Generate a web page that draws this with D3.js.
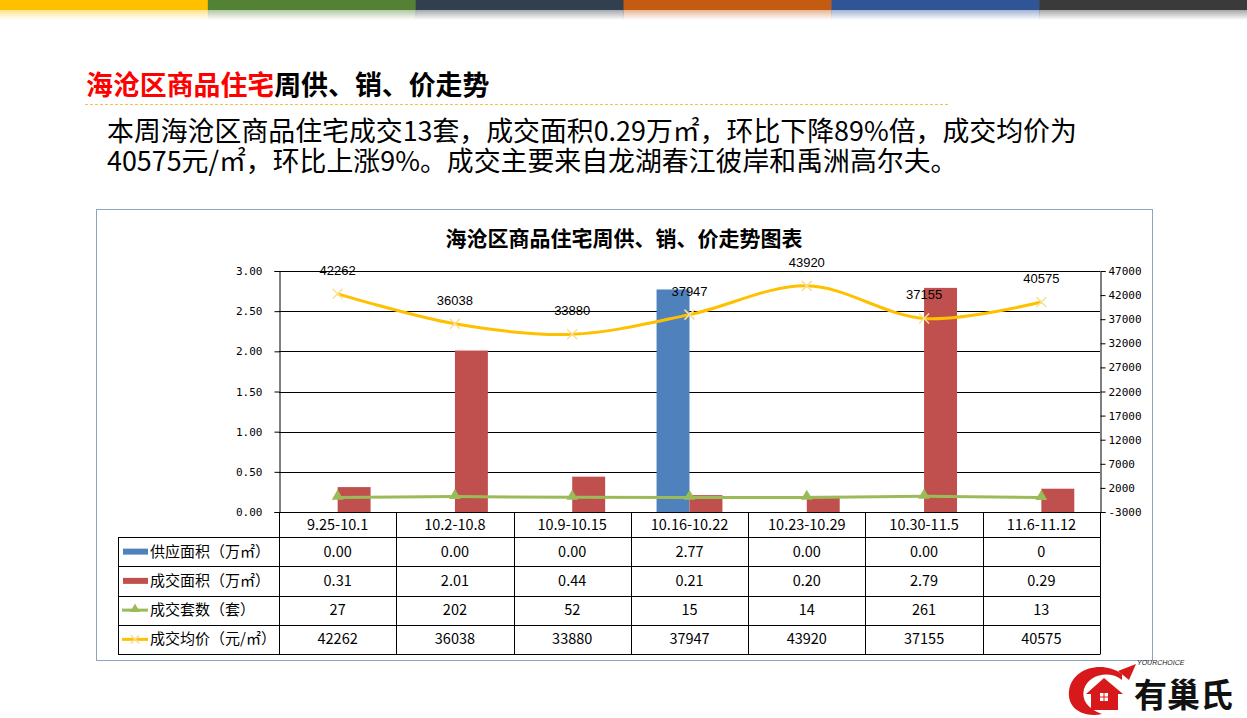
<!DOCTYPE html>
<html><head><meta charset="utf-8">
<script src="https://cdn.jsdelivr.net/npm/d3@7"></script>
<style>body{margin:0;background:#fff;position:relative;}svg{display:block;}
#body{position:absolute;left:107px;white-space:nowrap;font-family:'Noto Sans CJK SC';color:#000;line-height:30px;}</style>
</head><body>
<svg id="c" width="1247" height="718"></svg>
<div id="body"></div>
<script>
// ---- data ----
const categories = ["9.25-10.1","10.2-10.8","10.9-10.15","10.16-10.22","10.23-10.29","10.30-11.5","11.6-11.12"];
const supplyArea = [0,0,0,2.77,0,0,0];
const supplyLabels = ["0.00","0.00","0.00","2.77","0.00","0.00","0"];
const soldArea = [0.31,2.01,0.44,0.21,0.20,2.79,0.29];
const soldUnits = [27,202,52,15,14,261,13];
const avgPrice = [42262,36038,33880,37947,43920,37155,40575];
const leftTicks = [0,0.5,1,1.5,2,2.5,3];
const rightTicks = [-3000,2000,7000,12000,17000,22000,27000,32000,37000,42000,47000];
const seriesNames = ["供应面积（万㎡）","成交面积（万㎡）","成交套数（套）","成交均价（元/㎡）"];
const topBarColors = ["#FFC000","#548235","#323F4F","#C55A11","#2F5597","#3A3A3A"];

const svg = d3.select("#c");
const defs = svg.append("defs");
const W = 1247;

// ---- top color bar ----
const tb = d3.scaleBand().domain(d3.range(topBarColors.length)).range([0,W]);
topBarColors.forEach((c,i)=>{
  const g = defs.append("linearGradient").attr("id","fade"+i).attr("x1",0).attr("x2",0).attr("y1",0).attr("y2",1);
  g.append("stop").attr("offset","0%").attr("stop-color",c).attr("stop-opacity",0.45);
  g.append("stop").attr("offset","100%").attr("stop-color",c).attr("stop-opacity",0);
});
svg.selectAll("rect.tb").data(topBarColors).join("rect").attr("class","tb")
  .attr("x",(d,i)=>tb(i)).attr("y",0).attr("width",tb.bandwidth()+0.5).attr("height",10).attr("fill",d=>d);
svg.selectAll("rect.tbf").data(topBarColors).join("rect").attr("class","tbf")
  .attr("x",(d,i)=>tb(i)).attr("y",10).attr("width",tb.bandwidth()+0.5).attr("height",10).attr("fill",(d,i)=>`url(#fade${i})`);

// ---- heading ----
const head = svg.append("text").attr("x",86).attr("y",95)
  .attr("font-family","'Noto Sans CJK SC'").attr("font-weight","bold").attr("font-size",26.9);
head.append("tspan").attr("fill","#FF0000").text("海沧区商品住宅");
head.append("tspan").attr("fill","#000").text("周供、销、价走势");
svg.append("line").attr("x1",85).attr("x2",948).attr("y1",104.5).attr("y2",104.5)
  .attr("stroke","#F2C14E").attr("stroke-width",1).attr("stroke-dasharray","3,2");

// body paragraph (HTML, two lines)
const bodyLines = ["本周海沧区商品住宅成交13套，成交面积0.29万㎡，环比下降89%倍，成交均价为",
                   "40575元/㎡，环比上涨9%。成交主要来自龙湖春江彼岸和禹洲高尔夫。"];
const meas = svg.append("text").attr("font-family","'Noto Sans CJK SC'").attr("font-size",25).text(bodyLines[0]);
const fs = Math.min(27, 25 * 970 / meas.node().getComputedTextLength());
meas.remove();
const bodyDiv = d3.select("#body").style("font-size",fs+"px")
  .style("top",(142 - (15 - 0.724*fs + 1.16*fs))+"px");
bodyDiv.html(bodyLines.join("<br>"));

// ---- chart frame ----
svg.append("rect").attr("x",96.5).attr("y",209.5).attr("width",1056).attr("height",451)
  .attr("fill","#fff").attr("stroke","#8AA6C1").attr("stroke-width",1);
svg.append("text").attr("x",624).attr("y",246).attr("text-anchor","middle")
  .attr("font-family","'Noto Sans CJK SC'").attr("font-weight","bold").attr("font-size",21).attr("fill","#000")
  .text("海沧区商品住宅周供、销、价走势图表");

const L = 279, R = 1100, T = 271, B = 512;
const x0 = d3.scaleBand().domain(categories).range([L,R]).padding(0);
const x1 = d3.scaleBand().domain(["supply","sold"]).range([0,x0.bandwidth()]).paddingInner(0).paddingOuter(0.78);
const yL = d3.scaleLinear().domain([0,3]).range([B,T]);
const yR = d3.scaleLinear().domain([-3000,47000]).range([B,T]);

// gridlines
svg.append("g").selectAll("line").data(leftTicks.filter(d=>d>0)).join("line")
  .attr("x1",L).attr("x2",R).attr("y1",d=>Math.round(yL(d))+0.5).attr("y2",d=>Math.round(yL(d))+0.5)
  .attr("stroke","#000").attr("stroke-width",1);

// bars
const barData = categories.map((c,i)=>({c, supply:supplyArea[i], sold:soldArea[i]}));
const colors = {supply:"#4F81BD", sold:"#C0504D"};
const gb = svg.append("g");
barData.forEach(d=>{
  ["supply","sold"].forEach(k=>{
    if (d[k] <= 0) return;
    gb.append("rect").attr("x",x0(d.c)+x1(k)).attr("width",x1.bandwidth())
      .attr("y",yL(d[k])).attr("height",yL(0)-yL(d[k])).attr("fill",colors[k]);
  });
});

// axes
const axL = d3.axisLeft(yL).tickValues(leftTicks).tickFormat(d3.format(".2f")).tickSize(5).tickPadding(12);
const gL = svg.append("g").attr("transform",`translate(${L+0.5},0)`).call(axL);
const axR = d3.axisRight(yR).tickValues(rightTicks).tickFormat(d=>String(d)).tickSize(5).tickPadding(3);
const gR = svg.append("g").attr("transform",`translate(${R+0.5},0)`).call(axR);
[gL,gR].forEach(g=>{
  g.select(".domain").attr("stroke","#000");
  g.selectAll(".tick line").attr("stroke","#000");
  g.selectAll("text").attr("font-family","'DejaVu Sans Mono'").attr("font-size",11).attr("fill","#000");
});
svg.append("line").attr("x1",L).attr("x2",R).attr("y1",B+0.5).attr("y2",B+0.5).attr("stroke","#000");

// lines
const cx = c => x0(c)+x0.bandwidth()/2;
const lineR = d3.line().x((d,i)=>cx(categories[i])).y(d=>yR(d));
svg.append("path").datum(soldUnits).attr("d",lineR).attr("fill","none").attr("stroke","#9BBB59").attr("stroke-width",3);
const tri = d3.symbol().type(d3.symbolTriangle).size(60);
svg.append("g").selectAll("path").data(soldUnits).join("path")
  .attr("transform",(d,i)=>`translate(${cx(categories[i])},${yR(d)-1})`).attr("d",tri).attr("fill","#9BBB59");

const lineSmooth = d3.line().x((d,i)=>cx(categories[i])).y(d=>yR(d)).curve(d3.curveCardinal.tension(0));
svg.append("path").datum(avgPrice).attr("d",lineSmooth).attr("fill","none").attr("stroke","#FFC000").attr("stroke-width",3);
const xs = 5;
const gx = svg.append("g").selectAll("g").data(avgPrice).join("g")
  .attr("transform",(d,i)=>`translate(${cx(categories[i])},${yR(d)})`);
gx.append("path").attr("d",`M${-xs},${-xs}L${xs},${xs}M${-xs},${xs}L${xs},${-xs}`)
  .attr("stroke","#F9E08F").attr("stroke-width",1.5).attr("fill","none");
svg.append("g").selectAll("text").data(avgPrice).join("text")
  .attr("x",(d,i)=>cx(categories[i])).attr("y",d=>yR(d)-19).attr("text-anchor","middle")
  .attr("font-family","'Liberation Sans'").attr("font-size",13).attr("fill","#000").text(d=>d);

// ---- data table ----
const TL = 118, rowH = 29.25, headB = 537;
const tg = svg.append("g");
tg.selectAll("text.hd").data(categories).join("text").attr("class","hd")
  .attr("x",d=>cx(d)).attr("y",B+18).attr("text-anchor","middle")
  .attr("font-family","'Noto Sans CJK SC'").attr("font-size",14.5).attr("fill","#000").text(d=>d);
d3.range(5).forEach(r=>{
  const y = Math.round(headB + r*rowH)+0.5;
  tg.append("line").attr("x1",TL).attr("x2",R).attr("y1",y).attr("y2",y).attr("stroke","#000");
});
tg.append("line").attr("x1",TL+0.5).attr("x2",TL+0.5).attr("y1",headB).attr("y2",headB+4*rowH+0.5).attr("stroke","#000");
categories.concat(["__end"]).forEach((c,i)=>{
  const x = Math.round(L + i*x0.bandwidth())+0.5;
  tg.append("line").attr("x1",x).attr("x2",x).attr("y1",B).attr("y2",headB+4*rowH+0.5).attr("stroke","#000");
});
const rows = [supplyLabels, soldArea.map(d3.format(".2f")), soldUnits.map(String), avgPrice.map(String)];
rows.forEach((vals,r)=>{
  const yc = headB + r*rowH + rowH/2;
  tg.selectAll(null).data(vals).join("text")
    .attr("x",(d,i)=>cx(categories[i])).attr("y",yc+5).attr("text-anchor","middle")
    .attr("font-family","'Noto Sans CJK SC'").attr("font-size",14.5).attr("fill","#000").text(d=>d);
  tg.append("text").attr("x",150).attr("y",yc+5)
    .attr("font-family","'Noto Sans CJK SC'").attr("font-size",15).attr("fill","#000").text(seriesNames[r]);
  if (r<2) {
    tg.append("rect").attr("x",123).attr("y",yc-3).attr("width",25).attr("height",6).attr("fill",r===0?colors.supply:colors.sold);
  } else if (r===2) {
    tg.append("line").attr("x1",122).attr("x2",148).attr("y1",yc).attr("y2",yc).attr("stroke","#9BBB59").attr("stroke-width",3);
    tg.append("path").attr("transform",`translate(135,${yc-1})`).attr("d",d3.symbol().type(d3.symbolTriangle).size(40)).attr("fill","#9BBB59");
  } else {
    tg.append("line").attr("x1",122).attr("x2",148).attr("y1",yc).attr("y2",yc).attr("stroke","#FFC000").attr("stroke-width",3);
    tg.append("path").attr("d",`M131,${yc-4}L139,${yc+4}M131,${yc+4}L139,${yc-4}`).attr("stroke","#F9E08F").attr("stroke-width",1.5);
  }
});

// ---- logo ----
const lg = svg.append("g");
lg.append("path").attr("d","M1122,674 C1102,660 1072,668 1069,691 C1067,709 1084,718 1102,714 C1088,709 1081,700 1084,689 C1089,674 1110,670 1122,680 Z").attr("fill","#D7191C");
lg.append("path").attr("d","M1086,694 L1104,678 L1123,694 L1118,694 L1118,710 L1091,710 L1091,694 Z").attr("fill","#D7191C");
lg.append("path").attr("d","M1118,671 L1136,664 L1129,680 Z").attr("fill","#D7191C");
lg.append("rect").attr("x",1100).attr("y",693).attr("width",8).attr("height",8).attr("fill","#fff");
lg.append("line").attr("x1",1104).attr("x2",1104).attr("y1",693).attr("y2",701).attr("stroke","#D7191C").attr("stroke-width",1);
lg.append("line").attr("x1",1100).attr("x2",1108).attr("y1",697).attr("y2",697).attr("stroke","#D7191C").attr("stroke-width",1);
lg.append("text").attr("x",1137).attr("y",665).attr("font-family","'Liberation Sans'").attr("font-style","italic")
  .attr("font-size",7).attr("fill","#222").text("YOURCHOICE");
lg.append("text").attr("x",1134).attr("y",707).attr("font-family","'Noto Sans CJK SC'").attr("font-weight","bold")
  .attr("font-size",33).attr("fill","#111").text("有巢氏");
</script>
</body></html>
